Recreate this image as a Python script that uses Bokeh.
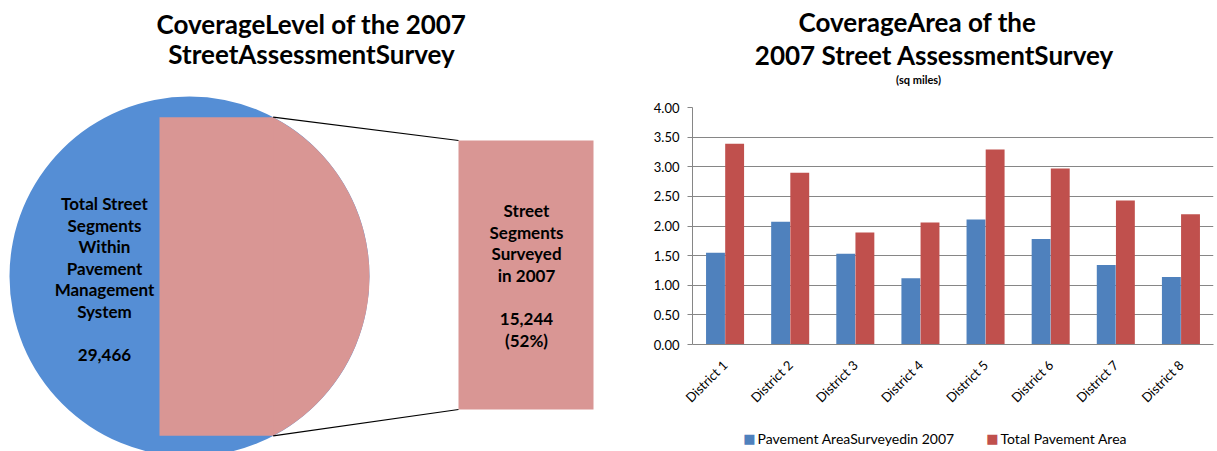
import math
from bokeh.plotting import figure
from bokeh.models import (Range1d, FactorRange, SingleIntervalTicker, NumeralTickFormatter,
                          ColumnDataSource)
from bokeh.transform import dodge
from bokeh.layouts import row
from bokeh.embed import file_html
from bokeh.resources import INLINE
from bokeh.core.properties import value

# ---------------- data ----------------
left_title = ["CoverageLevel of the 2007", "StreetAssessmentSurvey"]
total_label = ["Total Street", "Segments", "Within", "Pavement", "Management", "System"]
surveyed_label = ["Street", "Segments", "Surveyed", "in 2007"]
total_segments = 29466
surveyed_segments = 15244

right_title = ["CoverageArea of the", "2007 Street AssessmentSurvey"]
right_subtitle = "(sq miles)"
districts = ["District 1", "District 2", "District 3", "District 4",
             "District 5", "District 6", "District 7", "District 8"]
surveyed_area = [1.55, 2.07, 1.53, 1.12, 2.11, 1.78, 1.34, 1.14]
total_area = [3.39, 2.90, 1.89, 2.06, 3.29, 2.97, 2.43, 2.20]
series_names = ["Pavement AreaSurveyedin 2007", "Total Pavement Area"]
y_max = 4.0
y_step = 0.5

# ---------------- styles ----------------
FONT_NAME = "Lato"
FONT = value(FONT_NAME)
PIE_BLUE = "#558ED5"
PIE_PINK = "#D99694"
BAR_BLUE = "#4F81BD"
BAR_RED = "#C0504D"
GRID = "#868686"

H = 451
W1 = 608
W2 = 609
F_TOP, F_BOT = 107, 344       # frame top / bottom (canvas px)
F_LEFT, F_RIGHT = 692, 1213   # bar chart frame left / right (page px)

# ---------------- left panel (canvas-pixel coordinates) ----------------
p1 = figure(width=W1, height=H, x_range=Range1d(0, W1), y_range=Range1d(F_BOT, F_TOP),
            output_backend="svg", toolbar_location=None,
            min_border_left=0, min_border_right=0,
            min_border_top=F_TOP, min_border_bottom=H - F_BOT)
p1.axis.visible = False
p1.grid.visible = False
p1.outline_line_color = None

rends = []
cx, cy, r = 189, 276, 180
half = 62.3  # degrees of the highlighted slice edge from horizontal
rends.append(p1.ellipse(x=[cx], y=[cy], width=[2 * r], height=[2 * r],
                        fill_color=PIE_BLUE, line_color=None))
rends.append(p1.wedge(x=[cx], y=[cy], radius=r, start_angle=-math.radians(half),
                      end_angle=math.radians(half), fill_color=PIE_PINK, line_color=None))
ex = cx + r * math.cos(math.radians(half))
ey_top = cy - r * math.sin(math.radians(half))
ey_bot = cy + r * math.sin(math.radians(half))
rends.append(p1.quad(left=[159], right=[ex], top=[ey_top], bottom=[ey_bot],
                     fill_color=PIE_PINK, line_color=None))

bx0, bx1, by0, by1 = 458, 593, 140, 409
rends.append(p1.quad(left=[bx0], right=[bx1], top=[by0], bottom=[by1],
                     fill_color=PIE_PINK, line_color=None))
rends.append(p1.segment(x0=[ex, ex], y0=[ey_top, ey_bot], x1=[bx0, bx0], y1=[by0, by1],
                        line_color="black", line_width=1.2))

rends.append(p1.text(x=[311, 311], y=[23, 53], text=left_title, text_font=FONT,
                     text_font_style="bold", text_font_size="26px", text_align="center",
                     text_baseline="middle", text_color="black"))

step = 21.6
lines_left = total_label + ["", f"{total_segments:,}"]
rends.append(p1.text(x=[104] * len(lines_left), y=[203 + i * step for i in range(len(lines_left))],
                     text=lines_left, text_font=FONT, text_font_style="bold",
                     text_font_size="17px", text_align="center", text_baseline="middle",
                     text_color="black"))
pct = round(100 * surveyed_segments / total_segments)
lines_right = surveyed_label + ["", f"{surveyed_segments:,}", f"({pct}%)"]
rends.append(p1.text(x=[526] * len(lines_right), y=[210 + i * step for i in range(len(lines_right))],
                     text=lines_right, text_font=FONT, text_font_style="bold",
                     text_font_size="17px", text_align="center", text_baseline="middle",
                     text_color="black"))
for rr in rends:
    rr.level = "overlay"

# ---------------- right panel (bar chart) ----------------
src = ColumnDataSource(dict(district=districts, surveyed=surveyed_area, total=total_area))
p2 = figure(width=W2, height=H, x_range=FactorRange(*districts), y_range=Range1d(0, y_max),
            output_backend="svg", toolbar_location=None,
            min_border_left=F_LEFT - W1, min_border_right=W1 + W2 - F_RIGHT,
            min_border_top=F_TOP, min_border_bottom=H - F_BOT)
p2.outline_line_color = None
p2.xgrid.visible = False
p2.ygrid.grid_line_color = GRID
p2.ygrid.ticker = SingleIntervalTicker(interval=y_step)

bar_colors = [BAR_BLUE, BAR_RED]
p2.vbar(x=dodge("district", -0.147, range=p2.x_range), top="surveyed", width=0.29,
        source=src, fill_color=bar_colors[0], line_color=None)
p2.vbar(x=dodge("district", 0.147, range=p2.x_range), top="total", width=0.29,
        source=src, fill_color=bar_colors[1], line_color=None)

ya = p2.yaxis[0]
ya.ticker = SingleIntervalTicker(interval=y_step)
ya.formatter = NumeralTickFormatter(format="0.00")
ya.axis_line_color = GRID
ya.major_tick_line_color = GRID
ya.major_tick_out = 5
ya.major_tick_in = 0
ya.minor_tick_line_color = None
ya.major_label_text_font = FONT_NAME
ya.major_label_text_font_size = "13px"
ya.major_label_text_color = "black"
ya.major_label_standoff = 8

xa = p2.xaxis[0]
xa.axis_line_color = GRID
xa.major_tick_line_color = None
xa.minor_tick_line_color = None
xa.major_label_orientation = math.pi / 4
xa.major_label_text_font = FONT_NAME
xa.major_label_text_font_size = "13px"
xa.major_label_text_color = "black"
xa.major_label_standoff = 12

# helpers: page px -> synthetic x / data y of the bar chart
px_per_cat = (F_RIGHT - F_LEFT) / len(districts)
px_per_unit = (F_BOT - F_TOP) / y_max
def sx(px):
    return (px - F_LEFT) / px_per_cat
def sy(py):
    return (F_BOT - py) / px_per_unit

over = []
# titles above the frame
t_pos = [(917, 21, "26px"), (934, 54, "26px"), (918, 79, "11px")]
t_txt = right_title + [right_subtitle]
for txt, (px, py, size) in zip(t_txt, t_pos):
    over.append(p2.text(x=[sx(px)], y=[sy(py)], text=[txt],
                        text_font=FONT, text_font_style="bold", text_font_size=size,
                        text_align="center", text_baseline="middle", text_color="black"))

# legend below the axis (square swatches + labels)
leg_sq_x = [749, 992]
leg_y = 438
over.append(p2.text(x=[sx(v) for v in leg_sq_x], y=[sy(leg_y)] * 2, text=["\u25A0", "\u25A0"],
                    text_font=value("DejaVu Sans"), text_font_size="13px", text_align="center",
                    text_baseline="middle", text_color=bar_colors))
over.append(p2.text(x=[sx(v + 8) for v in leg_sq_x], y=[sy(leg_y)] * 2, text=series_names,
                    text_font=FONT, text_font_size="14px", text_align="left",
                    text_baseline="middle", text_color="black"))
for rr in over:
    rr.level = "overlay"

layout = row(p1, p2, spacing=0)
open("out.html", "w").write(file_html(layout, INLINE))
